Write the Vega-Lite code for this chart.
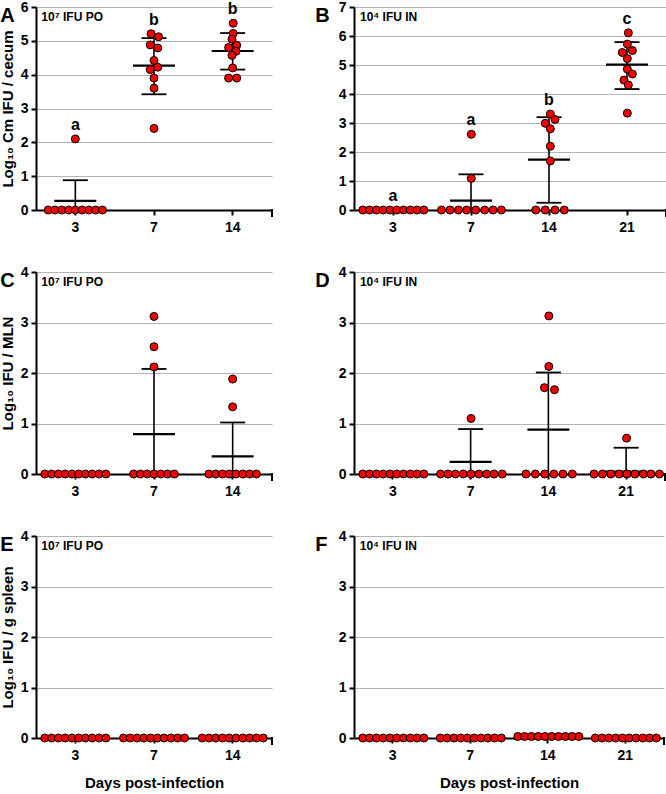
{
 "$schema": "https://vega.github.io/schema/vega-lite/v6.json",
 "background": "white",
 "padding": {"left": 0, "top": 0, "right": 1, "bottom": 2},
 "spacing": 31,
 "config": {
  "view": {"stroke": null},
  "font": "Liberation Sans",
  "axis": {"domainColor": "black", "domainWidth": 2, "tickColor": "black", "tickWidth": 2, "tickSize": 5,
   "labelFont": "Liberation Sans", "labelFontWeight": "bold", "labelFontSize": 14, "labelColor": "black", "labelPadding": 3, "labelOverlap": false, "labelBound": false,
   "titleFont": "Liberation Sans", "titleFontWeight": "bold", "titleFontSize": 15, "titleColor": "black",
   "gridColor": "#b4b4b4", "gridWidth": 1},
  "axisX": {"grid": false, "labelAngle": 0, "labelPadding": 5, "titlePadding": 13},
  "axisY": {"titlePadding": 5},
  "title": {"font": "Liberation Sans", "fontSize": 20, "fontWeight": "bold", "color": "black", "anchor": "start", "frame": "bounds", "baseline": "top", "offset": -26}
 },
 "datasets": {
  "pA": [
   {"day":3,"value":0,"slot":-4},{"day":3,"value":0,"slot":-3},{"day":3,"value":0,"slot":-2},{"day":3,"value":0,"slot":-1},{"day":3,"value":0,"slot":0},{"day":3,"value":0,"slot":1},{"day":3,"value":0,"slot":2},{"day":3,"value":0,"slot":3},{"day":3,"value":0,"slot":4},{"day":3,"value":2.1,"slot":0},
   {"day":7,"value":5.21,"slot":-0.43},{"day":7,"value":5.12,"slot":0.67},{"day":7,"value":4.88,"slot":-0.55},{"day":7,"value":4.79,"slot":0.55},{"day":7,"value":4.42,"slot":0},{"day":7,"value":4.22,"slot":0.55},{"day":7,"value":4.15,"slot":-0.55},{"day":7,"value":3.9,"slot":0},{"day":7,"value":3.6,"slot":0},{"day":7,"value":2.41,"slot":0},
   {"day":14,"value":5.52,"slot":0.08},{"day":14,"value":5.22,"slot":0.08},{"day":14,"value":5.05,"slot":-0.1},{"day":14,"value":4.87,"slot":0.6},{"day":14,"value":4.8,"slot":-0.6},{"day":14,"value":4.69,"slot":0.5},{"day":14,"value":4.57,"slot":-0.1},{"day":14,"value":4.2,"slot":0},{"day":14,"value":3.9,"slot":-0.6},{"day":14,"value":3.9,"slot":0.6}
  ],
  "sA": [
   {"day":3,"mean":0.27,"hi":0.88,"lo":-0.34,"letter":"a"},
   {"day":7,"mean":4.27,"hi":5.08,"lo":3.42,"letter":"b"},
   {"day":14,"mean":4.7,"hi":5.23,"lo":4.15,"letter":"b"}
  ],
  "pB": [
   {"day":3,"value":0,"slot":-4.5},{"day":3,"value":0,"slot":-3.5},{"day":3,"value":0,"slot":-2.5},{"day":3,"value":0,"slot":-1.5},{"day":3,"value":0,"slot":-0.5},{"day":3,"value":0,"slot":0.5},{"day":3,"value":0,"slot":1.5},{"day":3,"value":0,"slot":2.5},{"day":3,"value":0,"slot":3.5},{"day":3,"value":0,"slot":4.5},
   {"day":7,"value":0,"slot":-4.4},{"day":7,"value":0,"slot":-3.15},{"day":7,"value":0,"slot":-1.9},{"day":7,"value":0,"slot":-0.7},{"day":7,"value":0,"slot":0.64},{"day":7,"value":0,"slot":1.97},{"day":7,"value":0,"slot":3.2},{"day":7,"value":0,"slot":4.43},{"day":7,"value":1.09,"slot":0},{"day":7,"value":2.61,"slot":0},
   {"day":14,"value":0,"slot":-2.0},{"day":14,"value":0,"slot":-0.6},{"day":14,"value":0,"slot":0.84},{"day":14,"value":0,"slot":2.2},{"day":14,"value":3.31,"slot":0.15},{"day":14,"value":3.12,"slot":0.84},{"day":14,"value":2.99,"slot":-0.6},{"day":14,"value":2.8,"slot":0.15},{"day":14,"value":2.2,"slot":0.15},{"day":14,"value":1.69,"slot":0.15},
   {"day":21,"value":6.11,"slot":0.15},{"day":21,"value":5.72,"slot":0},{"day":21,"value":5.5,"slot":0.74},{"day":21,"value":5.43,"slot":-0.74},{"day":21,"value":5.22,"slot":0},{"day":21,"value":4.86,"slot":0},{"day":21,"value":4.69,"slot":0.74},{"day":21,"value":4.48,"slot":-0.5},{"day":21,"value":4.31,"slot":0.15},{"day":21,"value":3.34,"slot":0}
  ],
  "sB": [
   {"day":3,"mean":0,"hi":0,"lo":0,"letter":"a"},
   {"day":7,"mean":0.32,"hi":1.23,"lo":-0.59,"letter":"a"},
   {"day":14,"mean":1.74,"hi":3.2,"lo":0.25,"letter":"b"},
   {"day":21,"mean":5.01,"hi":5.79,"lo":4.17,"letter":"c"}
  ],
  "pC": [
   {"day":3,"value":0,"slot":-4.5},{"day":3,"value":0,"slot":-3.5},{"day":3,"value":0,"slot":-2.5},{"day":3,"value":0,"slot":-1.5},{"day":3,"value":0,"slot":-0.5},{"day":3,"value":0,"slot":0.5},{"day":3,"value":0,"slot":1.5},{"day":3,"value":0,"slot":2.5},{"day":3,"value":0,"slot":3.5},{"day":3,"value":0,"slot":4.5},
   {"day":7,"value":0,"slot":-3},{"day":7,"value":0,"slot":-2},{"day":7,"value":0,"slot":-1},{"day":7,"value":0,"slot":0},{"day":7,"value":0,"slot":1},{"day":7,"value":0,"slot":2},{"day":7,"value":0,"slot":3},{"day":7,"value":3.12,"slot":0},{"day":7,"value":2.52,"slot":0},{"day":7,"value":2.12,"slot":0},
   {"day":14,"value":0,"slot":-3.5},{"day":14,"value":0,"slot":-2.5},{"day":14,"value":0,"slot":-1.5},{"day":14,"value":0,"slot":-0.5},{"day":14,"value":0,"slot":0.5},{"day":14,"value":0,"slot":1.5},{"day":14,"value":0,"slot":2.5},{"day":14,"value":0,"slot":3.5},{"day":14,"value":1.88,"slot":0},{"day":14,"value":1.33,"slot":0}
  ],
  "sC": [
   {"day":3,"mean":0,"hi":0,"lo":0},
   {"day":7,"mean":0.79,"hi":2.08,"lo":-0.5},
   {"day":14,"mean":0.35,"hi":1.02,"lo":-0.32}
  ],
  "pD": [
   {"day":3,"value":0,"slot":-4.5},{"day":3,"value":0,"slot":-3.5},{"day":3,"value":0,"slot":-2.5},{"day":3,"value":0,"slot":-1.5},{"day":3,"value":0,"slot":-0.5},{"day":3,"value":0,"slot":0.5},{"day":3,"value":0,"slot":1.5},{"day":3,"value":0,"slot":2.5},{"day":3,"value":0,"slot":3.5},{"day":3,"value":0,"slot":4.5},
   {"day":7,"value":0,"slot":-4.5},{"day":7,"value":0,"slot":-3.4},{"day":7,"value":0,"slot":-2.3},{"day":7,"value":0,"slot":-1.15},{"day":7,"value":0,"slot":0},{"day":7,"value":0,"slot":1.15},{"day":7,"value":0,"slot":2.3},{"day":7,"value":0,"slot":3.4},{"day":7,"value":0,"slot":4.6},{"day":7,"value":1.1,"slot":0},
   {"day":14,"value":0,"slot":-3.37},{"day":14,"value":0,"slot":-1.98},{"day":14,"value":0,"slot":-0.6},{"day":14,"value":0,"slot":0.74},{"day":14,"value":0,"slot":2.08},{"day":14,"value":0,"slot":3.47},{"day":14,"value":3.13,"slot":0},{"day":14,"value":2.13,"slot":0},{"day":14,"value":1.71,"slot":-0.65},{"day":14,"value":1.67,"slot":0.84},
   {"day":21,"value":0,"slot":-4.8},{"day":21,"value":0,"slot":-3.56},{"day":21,"value":0,"slot":-2.33},{"day":21,"value":0,"slot":-1.09},{"day":21,"value":0,"slot":0.05},{"day":21,"value":0,"slot":1.24},{"day":21,"value":0,"slot":2.48},{"day":21,"value":0,"slot":3.6},{"day":21,"value":0,"slot":4.85},{"day":21,"value":0.71,"slot":0}
  ],
  "sD": [
   {"day":3,"mean":0,"hi":0,"lo":0},
   {"day":7,"mean":0.24,"hi":0.89,"lo":-0.41},
   {"day":14,"mean":0.88,"hi":2.01,"lo":-0.25},
   {"day":21,"mean":0.05,"hi":0.52,"lo":-0.38}
  ],
  "pE": [
   {"day":3,"value":0,"slot":-4.5},{"day":3,"value":0,"slot":-3.5},{"day":3,"value":0,"slot":-2.5},{"day":3,"value":0,"slot":-1.5},{"day":3,"value":0,"slot":-0.5},{"day":3,"value":0,"slot":0.5},{"day":3,"value":0,"slot":1.5},{"day":3,"value":0,"slot":2.5},{"day":3,"value":0,"slot":3.5},{"day":3,"value":0,"slot":4.5},
   {"day":7,"value":0,"slot":-4.5},{"day":7,"value":0,"slot":-3.5},{"day":7,"value":0,"slot":-2.5},{"day":7,"value":0,"slot":-1.5},{"day":7,"value":0,"slot":-0.5},{"day":7,"value":0,"slot":0.5},{"day":7,"value":0,"slot":1.5},{"day":7,"value":0,"slot":2.5},{"day":7,"value":0,"slot":3.5},{"day":7,"value":0,"slot":4.5},
   {"day":14,"value":0,"slot":-4.5},{"day":14,"value":0,"slot":-3.5},{"day":14,"value":0,"slot":-2.5},{"day":14,"value":0,"slot":-1.5},{"day":14,"value":0,"slot":-0.5},{"day":14,"value":0,"slot":0.5},{"day":14,"value":0,"slot":1.5},{"day":14,"value":0,"slot":2.5},{"day":14,"value":0,"slot":3.5},{"day":14,"value":0,"slot":4.5}
  ],
  "sE": [
   {"day":3,"mean":0,"hi":0,"lo":0},
   {"day":7,"mean":0,"hi":0,"lo":0},
   {"day":14,"mean":0,"hi":0,"lo":0}
  ],
  "pF": [
   {"day":3,"value":0,"slot":-4.5},{"day":3,"value":0,"slot":-3.5},{"day":3,"value":0,"slot":-2.5},{"day":3,"value":0,"slot":-1.5},{"day":3,"value":0,"slot":-0.5},{"day":3,"value":0,"slot":0.5},{"day":3,"value":0,"slot":1.5},{"day":3,"value":0,"slot":2.5},{"day":3,"value":0,"slot":3.5},{"day":3,"value":0,"slot":4.5},
   {"day":7,"value":0,"slot":-4.5},{"day":7,"value":0,"slot":-3.5},{"day":7,"value":0,"slot":-2.5},{"day":7,"value":0,"slot":-1.5},{"day":7,"value":0,"slot":-0.5},{"day":7,"value":0,"slot":0.5},{"day":7,"value":0,"slot":1.5},{"day":7,"value":0,"slot":2.5},{"day":7,"value":0,"slot":3.5},{"day":7,"value":0,"slot":4.5},
   {"day":14,"value":0.03,"slot":-4.5},{"day":14,"value":0.03,"slot":-3.5},{"day":14,"value":0.03,"slot":-2.5},{"day":14,"value":0.03,"slot":-1.5},{"day":14,"value":0.03,"slot":-0.5},{"day":14,"value":0.03,"slot":0.5},{"day":14,"value":0.03,"slot":1.5},{"day":14,"value":0.03,"slot":2.5},{"day":14,"value":0.03,"slot":3.5},{"day":14,"value":0.03,"slot":4.5},
   {"day":21,"value":0,"slot":-4.5},{"day":21,"value":0,"slot":-3.5},{"day":21,"value":0,"slot":-2.5},{"day":21,"value":0,"slot":-1.5},{"day":21,"value":0,"slot":-0.5},{"day":21,"value":0,"slot":0.5},{"day":21,"value":0,"slot":1.5},{"day":21,"value":0,"slot":2.5},{"day":21,"value":0,"slot":3.5},{"day":21,"value":0,"slot":4.5}
  ],
  "sF": [
   {"day":3,"mean":0,"hi":0,"lo":0},
   {"day":7,"mean":0,"hi":0,"lo":0},
   {"day":14,"mean":0.03,"hi":0.03,"lo":0.03},
   {"day":21,"mean":0,"hi":0,"lo":0}
  ]
 },
 "vconcat": [
  {"spacing": 42, "hconcat": [
   {"width": 236, "height": 203, "title": {"text": "A"},
    "layer": [
     {"data": {"name": "sA"}, "mark": {"type": "rule", "clip": true, "color": "black", "strokeWidth": 1.6},
      "encoding": {
       "x": {"field": "day", "type": "ordinal", "scale": {"domain": [3, 7, 14], "paddingInner": 0, "paddingOuter": 0}, "axis": {"title": null}},
       "y": {"field": "lo", "type": "quantitative", "scale": {"domain": [0, 6], "nice": false}, "axis": {"values": [0, 1, 2, 3, 4, 5, 6], "tickCount": 7, "labelExpr": "'' + datum.value", "gridOpacity": {"condition": {"test": "datum.value === 0", "value": 0}, "value": 1}, "title": "Log₁₀ Cm IFU / cecum", "grid": true}},
       "y2": {"field": "hi"}}},
     {"data": {"values": [{"end": 14}]}, "mark": {"type": "tick", "orient": "vertical", "size": 8, "thickness": 2, "color": "black", "yOffset": 3, "opacity": 1},
      "encoding": {"x": {"field": "end", "type": "ordinal", "bandPosition": 1}, "y": {"datum": 0, "type": "quantitative"}}},
     {"data": {"name": "sA"}, "mark": {"type": "tick", "orient": "horizontal", "clip": true, "color": "black", "size": 42, "thickness": 2.2, "opacity": 1},
      "encoding": {"x": {"field": "day", "type": "ordinal"}, "y": {"field": "mean", "type": "quantitative"}}},
     {"data": {"name": "sA"}, "mark": {"type": "tick", "orient": "horizontal", "clip": true, "color": "black", "size": 25, "thickness": 1.8, "opacity": 1},
      "encoding": {"x": {"field": "day", "type": "ordinal"}, "y": {"field": "hi", "type": "quantitative"}}},
     {"data": {"name": "sA"}, "mark": {"type": "tick", "orient": "horizontal", "clip": true, "color": "black", "size": 25, "thickness": 1.8, "opacity": 1},
      "encoding": {"x": {"field": "day", "type": "ordinal"}, "y": {"field": "lo", "type": "quantitative"}}},
     {"data": {"name": "pA"}, "mark": {"type": "circle", "color": "#f20000", "stroke": "black", "strokeWidth": 1, "size": 64, "opacity": 1},
      "encoding": {"x": {"field": "day", "type": "ordinal"}, "xOffset": {"field": "slot", "type": "quantitative", "scale": {"domain": [-4.65, 4.65]}}, "y": {"field": "value", "type": "quantitative"}}},
     {"data": {"name": "pA"},
      "transform": [{"aggregate": [{"op": "max", "field": "value", "as": "vmax"}], "groupby": ["day"]}, {"lookup": "day", "from": {"data": {"name": "sA"}, "key": "day", "fields": ["letter"]}}],
      "mark": {"type": "text", "baseline": "alphabetic", "dy": -9, "fontSize": 16, "fontWeight": "bold", "color": "black"},
      "encoding": {"x": {"field": "day", "type": "ordinal"}, "y": {"field": "vmax", "type": "quantitative"}, "text": {"field": "letter"}}},
     {"data": {"values": [{"label": "10⁷ IFU PO"}]},
      "mark": {"type": "text", "align": "left", "baseline": "middle", "dx": -34, "dy": 10, "fontSize": 12, "fontWeight": "bold", "color": "black"},
      "encoding": {"x": {"datum": 3, "type": "ordinal"}, "y": {"datum": 6, "type": "quantitative"}, "text": {"field": "label"}}}
    ]},
   {"width": 312, "height": 203, "title": {"text": "B", "dx": -23},
    "layer": [
     {"data": {"name": "sB"}, "mark": {"type": "rule", "clip": true, "color": "black", "strokeWidth": 1.6},
      "encoding": {
       "x": {"field": "day", "type": "ordinal", "scale": {"domain": [3, 7, 14, 21], "paddingInner": 0, "paddingOuter": 0}, "axis": {"title": null}},
       "y": {"field": "lo", "type": "quantitative", "scale": {"domain": [0, 7], "nice": false}, "axis": {"values": [0, 1, 2, 3, 4, 5, 6, 7], "tickCount": 8, "labelExpr": "'' + datum.value", "gridOpacity": {"condition": {"test": "datum.value === 0", "value": 0}, "value": 1}, "title": null, "grid": true}},
       "y2": {"field": "hi"}}},
     {"data": {"values": [{"end": 21}]}, "mark": {"type": "tick", "orient": "vertical", "size": 8, "thickness": 2, "color": "black", "yOffset": 3, "opacity": 1},
      "encoding": {"x": {"field": "end", "type": "ordinal", "bandPosition": 1}, "y": {"datum": 0, "type": "quantitative"}}},
     {"data": {"name": "sB"}, "mark": {"type": "tick", "orient": "horizontal", "clip": true, "color": "black", "size": 42, "thickness": 2.2, "opacity": 1},
      "encoding": {"x": {"field": "day", "type": "ordinal"}, "y": {"field": "mean", "type": "quantitative"}}},
     {"data": {"name": "sB"}, "mark": {"type": "tick", "orient": "horizontal", "clip": true, "color": "black", "size": 25, "thickness": 1.8, "opacity": 1},
      "encoding": {"x": {"field": "day", "type": "ordinal"}, "y": {"field": "hi", "type": "quantitative"}}},
     {"data": {"name": "sB"}, "mark": {"type": "tick", "orient": "horizontal", "clip": true, "color": "black", "size": 25, "thickness": 1.8, "opacity": 1},
      "encoding": {"x": {"field": "day", "type": "ordinal"}, "y": {"field": "lo", "type": "quantitative"}}},
     {"data": {"name": "pB"}, "mark": {"type": "circle", "color": "#f20000", "stroke": "black", "strokeWidth": 1, "size": 64, "opacity": 1},
      "encoding": {"x": {"field": "day", "type": "ordinal"}, "xOffset": {"field": "slot", "type": "quantitative", "scale": {"domain": [-5.74, 5.74]}}, "y": {"field": "value", "type": "quantitative"}}},
     {"data": {"name": "pB"},
      "transform": [{"aggregate": [{"op": "max", "field": "value", "as": "vmax"}], "groupby": ["day"]}, {"lookup": "day", "from": {"data": {"name": "sB"}, "key": "day", "fields": ["letter"]}}],
      "mark": {"type": "text", "baseline": "alphabetic", "dy": -9, "fontSize": 16, "fontWeight": "bold", "color": "black"},
      "encoding": {"x": {"field": "day", "type": "ordinal"}, "y": {"field": "vmax", "type": "quantitative"}, "text": {"field": "letter"}}},
     {"data": {"values": [{"label": "10⁴ IFU IN"}]},
      "mark": {"type": "text", "align": "left", "baseline": "middle", "dx": -33, "dy": 10, "fontSize": 12, "fontWeight": "bold", "color": "black"},
      "encoding": {"x": {"datum": 3, "type": "ordinal"}, "y": {"datum": 7, "type": "quantitative"}, "text": {"field": "label"}}}
    ]}
  ]},
  {"spacing": 42, "hconcat": [
   {"width": 236, "height": 202, "title": {"text": "C"},
    "layer": [
     {"data": {"name": "sC"}, "mark": {"type": "rule", "clip": true, "color": "black", "strokeWidth": 1.6},
      "encoding": {
       "x": {"field": "day", "type": "ordinal", "scale": {"domain": [3, 7, 14], "paddingInner": 0, "paddingOuter": 0}, "axis": {"title": null}},
       "y": {"field": "lo", "type": "quantitative", "scale": {"domain": [0, 4], "nice": false}, "axis": {"values": [0, 0.5, 1, 1.5, 2, 2.5, 3, 3.5, 4], "labelExpr": "datum.value % 1 === 0 ? '' + datum.value : ''", "gridOpacity": {"condition": {"test": "datum.value % 1 !== 0 || datum.value === 0", "value": 0}, "value": 1}, "tickSize": {"condition": {"test": "datum.value % 1 !== 0", "value": -5}, "value": 5}, "title": "Log₁₀ IFU / MLN", "grid": true}},
       "y2": {"field": "hi"}}},
     {"data": {"values": [{"end": 14}]}, "mark": {"type": "tick", "orient": "vertical", "size": 8, "thickness": 2, "color": "black", "yOffset": 3, "opacity": 1},
      "encoding": {"x": {"field": "end", "type": "ordinal", "bandPosition": 1}, "y": {"datum": 0, "type": "quantitative"}}},
     {"data": {"name": "sC"}, "mark": {"type": "tick", "orient": "horizontal", "clip": true, "color": "black", "size": 42, "thickness": 2.2, "opacity": 1},
      "encoding": {"x": {"field": "day", "type": "ordinal"}, "y": {"field": "mean", "type": "quantitative"}}},
     {"data": {"name": "sC"}, "mark": {"type": "tick", "orient": "horizontal", "clip": true, "color": "black", "size": 25, "thickness": 1.8, "opacity": 1},
      "encoding": {"x": {"field": "day", "type": "ordinal"}, "y": {"field": "hi", "type": "quantitative"}}},
     {"data": {"name": "sC"}, "mark": {"type": "tick", "orient": "horizontal", "clip": true, "color": "black", "size": 25, "thickness": 1.8, "opacity": 1},
      "encoding": {"x": {"field": "day", "type": "ordinal"}, "y": {"field": "lo", "type": "quantitative"}}},
     {"data": {"name": "pC"}, "mark": {"type": "circle", "color": "#f20000", "stroke": "black", "strokeWidth": 1, "size": 64, "opacity": 1},
      "encoding": {"x": {"field": "day", "type": "ordinal"}, "xOffset": {"field": "slot", "type": "quantitative", "scale": {"domain": [-4.76, 4.76]}}, "y": {"field": "value", "type": "quantitative"}}},
     {"data": {"values": [{"label": "10⁷ IFU PO"}]},
      "mark": {"type": "text", "align": "left", "baseline": "middle", "dx": -34, "dy": 10, "fontSize": 12, "fontWeight": "bold", "color": "black"},
      "encoding": {"x": {"datum": 3, "type": "ordinal"}, "y": {"datum": 4, "type": "quantitative"}, "text": {"field": "label"}}}
    ]},
   {"width": 311, "height": 202, "title": {"text": "D", "dx": -23},
    "layer": [
     {"data": {"name": "sD"}, "mark": {"type": "rule", "clip": true, "color": "black", "strokeWidth": 1.6},
      "encoding": {
       "x": {"field": "day", "type": "ordinal", "scale": {"domain": [3, 7, 14, 21], "paddingInner": 0, "paddingOuter": 0}, "axis": {"title": null}},
       "y": {"field": "lo", "type": "quantitative", "scale": {"domain": [0, 4], "nice": false}, "axis": {"values": [0, 0.5, 1, 1.5, 2, 2.5, 3, 3.5, 4], "labelExpr": "datum.value % 1 === 0 ? '' + datum.value : ''", "gridOpacity": {"condition": {"test": "datum.value % 1 !== 0 || datum.value === 0", "value": 0}, "value": 1}, "tickSize": {"condition": {"test": "datum.value % 1 !== 0", "value": -5}, "value": 5}, "title": null, "grid": true}},
       "y2": {"field": "hi"}}},
     {"data": {"values": [{"end": 21}]}, "mark": {"type": "tick", "orient": "vertical", "size": 8, "thickness": 2, "color": "black", "yOffset": 3, "opacity": 1},
      "encoding": {"x": {"field": "end", "type": "ordinal", "bandPosition": 1}, "y": {"datum": 0, "type": "quantitative"}}},
     {"data": {"name": "sD"}, "mark": {"type": "tick", "orient": "horizontal", "clip": true, "color": "black", "size": 42, "thickness": 2.2, "opacity": 1},
      "encoding": {"x": {"field": "day", "type": "ordinal"}, "y": {"field": "mean", "type": "quantitative"}}},
     {"data": {"name": "sD"}, "mark": {"type": "tick", "orient": "horizontal", "clip": true, "color": "black", "size": 25, "thickness": 1.8, "opacity": 1},
      "encoding": {"x": {"field": "day", "type": "ordinal"}, "y": {"field": "hi", "type": "quantitative"}}},
     {"data": {"name": "sD"}, "mark": {"type": "tick", "orient": "horizontal", "clip": true, "color": "black", "size": 25, "thickness": 1.8, "opacity": 1},
      "encoding": {"x": {"field": "day", "type": "ordinal"}, "y": {"field": "lo", "type": "quantitative"}}},
     {"data": {"name": "pD"}, "mark": {"type": "circle", "color": "#f20000", "stroke": "black", "strokeWidth": 1, "size": 64, "opacity": 1},
      "encoding": {"x": {"field": "day", "type": "ordinal"}, "xOffset": {"field": "slot", "type": "quantitative", "scale": {"domain": [-5.8, 5.8]}}, "y": {"field": "value", "type": "quantitative"}}},
     {"data": {"values": [{"label": "10⁴ IFU IN"}]},
      "mark": {"type": "text", "align": "left", "baseline": "middle", "dx": -33, "dy": 10, "fontSize": 12, "fontWeight": "bold", "color": "black"},
      "encoding": {"x": {"datum": 3, "type": "ordinal"}, "y": {"datum": 4, "type": "quantitative"}, "text": {"field": "label"}}}
    ]}
  ]},
  {"spacing": 42, "hconcat": [
   {"width": 236, "height": 202, "title": {"text": "E"},
    "layer": [
     {"data": {"name": "sE"}, "mark": {"type": "rule", "clip": true, "color": "black", "strokeWidth": 1.6},
      "encoding": {
       "x": {"field": "day", "type": "ordinal", "scale": {"domain": [3, 7, 14], "paddingInner": 0, "paddingOuter": 0}, "axis": {"title": "Days post-infection"}},
       "y": {"field": "lo", "type": "quantitative", "scale": {"domain": [0, 4], "nice": false}, "axis": {"values": [0, 0.5, 1, 1.5, 2, 2.5, 3, 3.5, 4], "labelExpr": "datum.value % 1 === 0 ? '' + datum.value : ''", "gridOpacity": {"condition": {"test": "datum.value % 1 !== 0 || datum.value === 0", "value": 0}, "value": 1}, "tickSize": {"condition": {"test": "datum.value % 1 !== 0", "value": -5}, "value": 5}, "title": "Log₁₀ IFU / g spleen", "grid": true}},
       "y2": {"field": "hi"}}},
     {"data": {"values": [{"end": 14}]}, "mark": {"type": "tick", "orient": "vertical", "size": 8, "thickness": 2, "color": "black", "yOffset": 3, "opacity": 1},
      "encoding": {"x": {"field": "end", "type": "ordinal", "bandPosition": 1}, "y": {"datum": 0, "type": "quantitative"}}},
     {"data": {"name": "sE"}, "mark": {"type": "tick", "orient": "horizontal", "clip": true, "color": "black", "size": 42, "thickness": 2.2, "opacity": 1},
      "encoding": {"x": {"field": "day", "type": "ordinal"}, "y": {"field": "mean", "type": "quantitative"}}},
     {"data": {"name": "pE"}, "mark": {"type": "circle", "color": "#f20000", "stroke": "black", "strokeWidth": 1, "size": 64, "opacity": 1},
      "encoding": {"x": {"field": "day", "type": "ordinal"}, "xOffset": {"field": "slot", "type": "quantitative", "scale": {"domain": [-5.7, 5.7]}}, "y": {"field": "value", "type": "quantitative"}}},
     {"data": {"values": [{"label": "10⁷ IFU PO"}]},
      "mark": {"type": "text", "align": "left", "baseline": "middle", "dx": -34, "dy": 10, "fontSize": 12, "fontWeight": "bold", "color": "black"},
      "encoding": {"x": {"datum": 3, "type": "ordinal"}, "y": {"datum": 4, "type": "quantitative"}, "text": {"field": "label"}}}
    ]},
   {"width": 310, "height": 202, "title": {"text": "F", "dx": -23},
    "layer": [
     {"data": {"name": "sF"}, "mark": {"type": "rule", "clip": true, "color": "black", "strokeWidth": 1.6},
      "encoding": {
       "x": {"field": "day", "type": "ordinal", "scale": {"domain": [3, 7, 14, 21], "paddingInner": 0, "paddingOuter": 0}, "axis": {"title": "Days post-infection"}},
       "y": {"field": "lo", "type": "quantitative", "scale": {"domain": [0, 4], "nice": false}, "axis": {"values": [0, 0.5, 1, 1.5, 2, 2.5, 3, 3.5, 4], "labelExpr": "datum.value % 1 === 0 ? '' + datum.value : ''", "gridOpacity": {"condition": {"test": "datum.value % 1 !== 0 || datum.value === 0", "value": 0}, "value": 1}, "tickSize": {"condition": {"test": "datum.value % 1 !== 0", "value": -5}, "value": 5}, "title": null, "grid": true}},
       "y2": {"field": "hi"}}},
     {"data": {"values": [{"end": 21}]}, "mark": {"type": "tick", "orient": "vertical", "size": 8, "thickness": 2, "color": "black", "yOffset": 3, "opacity": 1},
      "encoding": {"x": {"field": "end", "type": "ordinal", "bandPosition": 1}, "y": {"datum": 0, "type": "quantitative"}}},
     {"data": {"name": "sF"}, "mark": {"type": "tick", "orient": "horizontal", "clip": true, "color": "black", "size": 42, "thickness": 2.2, "opacity": 1},
      "encoding": {"x": {"field": "day", "type": "ordinal"}, "y": {"field": "mean", "type": "quantitative"}}},
     {"data": {"name": "pF"}, "mark": {"type": "circle", "color": "#f20000", "stroke": "black", "strokeWidth": 1, "size": 64, "opacity": 1},
      "encoding": {"x": {"field": "day", "type": "ordinal"}, "xOffset": {"field": "slot", "type": "quantitative", "scale": {"domain": [-5.61, 5.61]}}, "y": {"field": "value", "type": "quantitative"}}},
     {"data": {"values": [{"label": "10⁴ IFU IN"}]},
      "mark": {"type": "text", "align": "left", "baseline": "middle", "dx": -33, "dy": 10, "fontSize": 12, "fontWeight": "bold", "color": "black"},
      "encoding": {"x": {"datum": 3, "type": "ordinal"}, "y": {"datum": 4, "type": "quantitative"}, "text": {"field": "label"}}}
    ]}
  ]}
 ]
}
